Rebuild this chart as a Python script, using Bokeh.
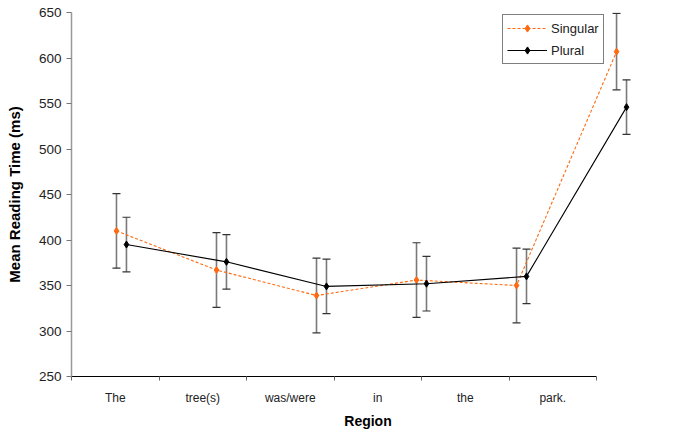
from bokeh.plotting import figure
from bokeh.models import (ColumnDataSource, FixedTicker, Range1d, Whisker, TeeHead, Legend)
from bokeh.embed import file_html
from bokeh.resources import INLINE

# ---- data ----
regions = ["The", "tree(s)", "was/were", "in", "the", "park."]
singular = [410, 367, 339, 356, 350, 607]
singular_err = [41, 41, 41, 41, 41, 42]
plural = [395, 376, 349, 352, 360, 546]
plural_err = [30, 30, 30, 30, 30, 30]
y_ticks = [250, 300, 350, 400, 450, 500, 550, 600, 650]

# point placement (points sit on their own evenly spaced positions)
start = 0.514
step = 1.143
shift = 0.114

xs_s = [start + i * step for i in range(len(regions))]
xs_p = [x + shift for x in xs_s]

src_s = ColumnDataSource(dict(x=xs_s, y=singular,
                              lo=[m - e for m, e in zip(singular, singular_err)],
                              hi=[m + e for m, e in zip(singular, singular_err)]))
src_p = ColumnDataSource(dict(x=xs_p, y=plural,
                              lo=[m - e for m, e in zip(plural, plural_err)],
                              hi=[m + e for m, e in zip(plural, plural_err)]))

ORANGE = "#FF6A10"
FONT = "Liberation Sans"

p = figure(width=672, height=432, output_backend="svg", toolbar_location=None,
           x_range=Range1d(0, 6.777), y_range=Range1d(250, 650),
           min_border_left=71, min_border_right=8, min_border_top=12, min_border_bottom=56)
p.outline_line_color = None
p.xgrid.visible = False
p.ygrid.visible = False
p.background_fill_color = "white"
p.border_fill_color = "white"

# error bars
for src in (src_s, src_p):
    w = Whisker(source=src, base="x", upper="hi", lower="lo",
                line_color="#7a7a7a", line_width=1.6,
                upper_head=TeeHead(size=8, line_color="#333333", line_width=1.2),
                lower_head=TeeHead(size=8, line_color="#333333", line_width=1.2))
    p.add_layout(w)

l1 = p.line("x", "y", source=src_s, line_color=ORANGE, line_width=1.1, line_dash="3 2")
m1 = p.scatter("x", "y", source=src_s, marker="diamond", size=7, fill_color=ORANGE, line_color=ORANGE)
l2 = p.line("x", "y", source=src_p, line_color="black", line_width=1.1)
m2 = p.scatter("x", "y", source=src_p, marker="diamond", size=7, fill_color="black", line_color="black")

legend = Legend(items=[("Singular", [l1, m1]), ("Plural", [l2, m2])],
                location=(431, 312), border_line_color="black", border_line_width=1,
                background_fill_color="white", background_fill_alpha=1,
                padding=4, spacing=4, margin=0, glyph_width=40, glyph_height=18,
                label_height=18, label_standoff=4,
                label_text_font=FONT, label_text_font_size="13px", label_text_color="#222222")
p.add_layout(legend)

# x axis
xa = p.xaxis[0]
xa.ticker = FixedTicker(ticks=[i + 0.5 for i in range(len(regions))],
                        minor_ticks=list(range(len(regions) + 1)))
xa.major_label_overrides = {i + 0.5: r for i, r in enumerate(regions)}
xa.bounds = (0, len(regions))
xa.axis_line_color = "black"
xa.axis_line_width = 1
xa.major_tick_out = 0
xa.major_tick_in = 0
xa.minor_tick_out = 4
xa.minor_tick_in = 0
xa.minor_tick_line_color = "#666666"
xa.major_label_standoff = 10
xa.major_label_text_font = FONT
xa.major_label_text_font_size = "12px"
xa.major_label_text_color = "#222222"
xa.axis_label = "Region"
xa.axis_label_standoff = 5
xa.axis_label_text_font = FONT
xa.axis_label_text_font_size = "14px"
xa.axis_label_text_font_style = "bold"
xa.axis_label_text_color = "black"

# y axis
ya = p.yaxis[0]
ya.ticker = FixedTicker(ticks=y_ticks)
ya.axis_line_color = "#999999"
ya.axis_line_width = 1.5
ya.major_tick_out = 5
ya.major_tick_in = 0
ya.major_tick_line_color = "#777777"
ya.minor_tick_out = 0
ya.minor_tick_in = 0
ya.major_label_standoff = 5
ya.major_label_text_font = FONT
ya.major_label_text_font_size = "13.5px"
ya.major_label_text_color = "#222222"
ya.axis_label = "Mean Reading Time (ms)"
ya.axis_label_standoff = 13
ya.axis_label_text_font = FONT
ya.axis_label_text_font_size = "15px"
ya.axis_label_text_font_style = "bold"
ya.axis_label_text_color = "black"

open("out.html", "w").write(file_html(p, INLINE))
